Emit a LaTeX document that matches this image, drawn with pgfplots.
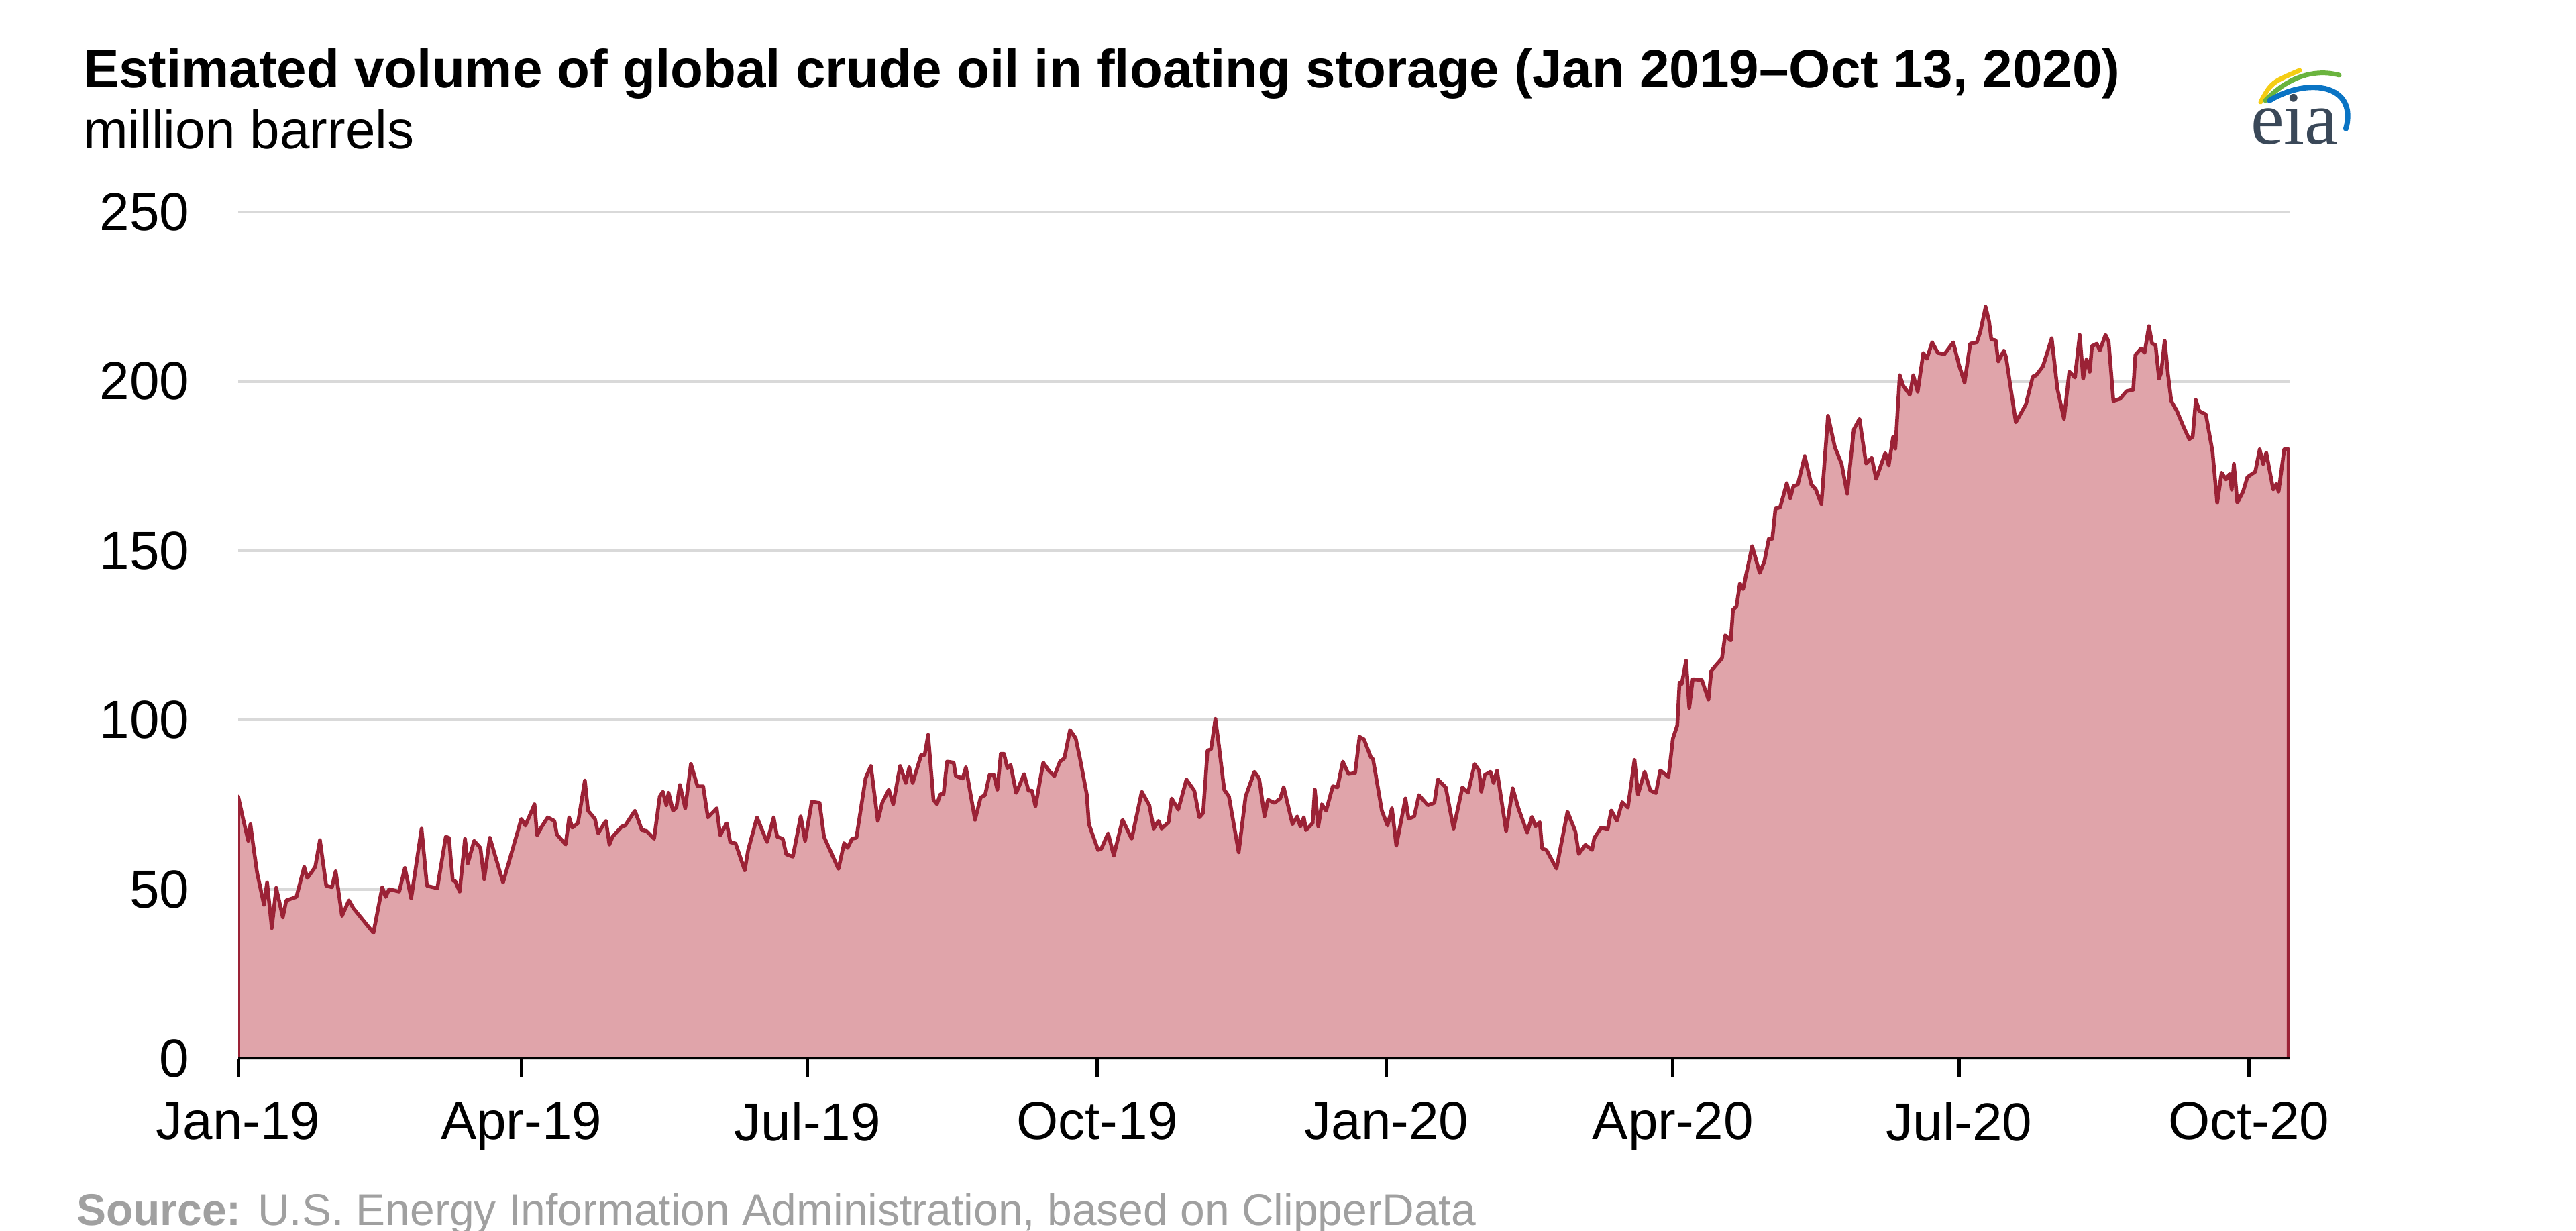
\documentclass[border=0pt]{standalone}
\usepackage{fontspec}
\setmainfont{Liberation Sans}
\newfontfamily\eiafont{Liberation Serif}
\usepackage{pgfplots}
\pgfplotsset{compat=1.18}

\definecolor{areafill}{RGB}{224,164,170}
\definecolor{arealine}{RGB}{155,34,54}
\definecolor{gridgray}{RGB}{217,217,217}
\definecolor{srcgray}{RGB}{160,160,160}
\definecolor{eiatext}{RGB}{58,72,88}
\definecolor{eiayellow}{RGB}{245,205,20}
\definecolor{eiagreen}{RGB}{106,180,62}
\definecolor{eiablue}{RGB}{10,116,196}

\begin{document}
\fontsize{8}{9.6}\selectfont
\begin{tikzpicture}
\path[use as bounding box] (0,0) rectangle (384pt,183.5pt);

% days since 1 Jan 2019, million barrels
\begin{axis}[
    at={(35.5pt,25.7pt)}, anchor=south west,
    scale only axis, width=305.8pt, height=126.2pt,
    xmin=0, xmax=652, ymin=0, ymax=250,
    axis line style={draw=none},
    xtick={0,90,181,273,365,456,547,639},
    xticklabels={Jan-19,Apr-19,Jul-19,Oct-19,Jan-20,Apr-20,Jul-20,Oct-20},
    ytick={0,50,...,250},
    xtick pos=bottom, tick align=outside,
    major tick length=2.7pt,
    xtick style={black, line width=0.5pt},
    ytick style={draw=none},
    ymajorgrids, grid style={gridgray, line width=0.45pt},
    tick label style={font=\fontsize{8}{9.6}\selectfont},
    /pgf/number format/assume math mode=true,
    yticklabel style={anchor=east, inner sep=0pt, xshift=-4.4pt},
    xticklabel style={anchor=north, inner sep=0pt, yshift=-3.6pt},
]
\addplot[fill=areafill, draw=arealine, line width=0.55pt, line join=round] coordinates {
(0,0) (0,77.4) (1.4,71.5) (3.2,64.3) (3.9,69.2) (4.6,64.3) (6,55) (8.2,45.4) (9.2,52) (10.7,38.5)
(12.1,50.4) (14.2,41.7) (15.3,46.7) (18.5,47.7) (21,56.6) (22,53.3) (24.5,56.6) (26,64.5) (28,51)
(29.8,50.6) (31,55.3) (33,42.1) (35.2,46.7) (36.6,44.4) (43,37.1) (45.8,50.6) (46.9,47.7) (48,50)
(51.2,49.3) (53,56.3) (55,47.3) (58.3,67.9) (60,51) (63.3,50.3) (66,65.5) (67,65.2) (68.2,52.6)
(69,52.4) (70.4,49.3) (72.1,64.9) (73,57.6) (75,64.3) (77,62.2) (78.2,53) (80,65.2) (84.2,52)
(90,70.8) (91.3,68.8) (94.2,75.1) (95,65.9) (96.3,68.2) (98.4,71.2)
(100.5,70.2) (101.3,66.2) (104.1,63.2) (105.2,71.2) (106.2,68.2) (108,69.5) (110.2,82.1) (111.2,73.2)
(113.4,70.8) (114.4,66.5) (116.9,70.2) (118,63.2) (119,65.5) (121.9,68.5) (123,68.8) (126.1,73.2)
(128.3,67.5) (129.8,67.2) (132.2,64.9) (134,77.4) (135,78.8) (136.1,74.8) (136.8,78.5) (138.2,73.2)
(139.3,74.2) (140.4,80.8) (142.1,73.9) (143.9,87) (146,80.4) (147.8,80.4) (149.3,71.2) (152.1,73.9)
(153.2,65.9) (155.3,69.5) (156.4,63.9) (158.1,63.5) (161,55.6) (162.1,61.6) (164.9,71.2) (168.1,63.9)
(170.2,71.2) (171.3,65.5) (173.1,64.9) (174.2,60.3) (176.3,59.6) (178.8,71.5) (180.2,64.3) (182.3,75.8)
(184.8,75.5) (186.2,65.5) (190.8,56) (192.6,63.6) (193.7,62.2) (195.1,64.9) (196.5,65.2) (199.4,82.7)
(201.1,86.4)
(203.3,70.2) (204.7,75.5) (206.8,79.4) (208.2,75.1) (210.4,86.4) (212.2,81.4) (213.3,86) (214.4,81.4)
(217.1,89.7) (218.2,89.7) (219.3,95.6) (221,76.4) (222.1,75.1) (223.2,78.1) (224.2,78.1) (225.3,87.7)
(227.4,87.4) (228.1,83.4) (230.3,82.7) (231.3,86) (234.2,70.5) (236,77.1) (237.4,77.8) (238.8,83.7)
(240.2,83.7) (241.3,79.4) (242.4,90) (243.4,90) (244.5,85.7) (245.5,86.7) (247.3,78.4) (249.8,84)
(251.2,79.1) (252.3,79.1) (253.4,74.5) (255.9,87.4) (257.7,85) (259.4,83.4) (261.2,87.7) (262.6,88.7)
(264.4,97) (266.2,94.6) (267.6,88.4) (269.7,78.1) (270.4,69.2) (273.3,61.6) (274.3,61.9) (276.5,66.5)
(278.3,59.9) (281.1,70.5) (284,64.9) (287.2,78.8) (289.6,74.8) (291,67.9) (292.5,70.2) (293.5,67.9)
(295.7,69.8) (296.7,76.8) (298.8,73.5) (301.4,82.4) (303.9,79.1) (305.5,71.2) (306.7,72.5)
(308.1,91) (309.2,91.3) (310.6,100.3) (311.6,93.3) (313.4,79.4) (314.9,77.4) (318,60.9) (320.2,77.4)
(323,84.7) (324.5,82.7) (326.2,71.5) (327.3,76.4) (329.4,75.5) (331.2,76.8) (332.3,80.1) (335.1,69.2)
(336.6,71.5) (337.6,68.5) (338.7,71.2) (339.4,67.5) (341.5,69.5) (342.2,79.4) (343.3,68.5) (344.4,75.1)
(345.8,73.2) (347.9,80.4) (349.4,80.1) (351.1,87.7) (352.9,84) (355,84.3) (356.4,95) (357.8,94.3)
(360,89) (360.7,88.4) (363.5,73.2) (365.3,68.8) (366.7,73.9) (368.1,62.9) (371,76.8) (372,70.8)
(373.8,71.5) (375.3,77.8) (378.1,74.8) (380.2,75.5) (381.3,82.4) (383.8,80.1) (386.3,67.9) (389.1,80.1)
(390.9,78.5) (393,87) (394.4,85) (395.1,78.8) (396.2,83.7) (398,84.7) (399,81.4) (400.1,85)
(403,67.2) (405.1,79.8) (406.9,73.9)
(409.7,66.7) (411.2,71.4) (412.3,68.6) (413.7,69.8) (414.4,62) (415.8,61.6) (419,56.1) (422.5,72.9)
(425,67.1) (426.1,60.4) (428.2,63.1) (430.3,61.6) (431,65.1) (433.2,68.2) (435.3,67.8) (436.4,73.3)
(438.2,70.2) (439.9,75.7) (441.7,74.1) (443.8,88.2) (444.9,78) (447,84.7) (448.8,79.2) (450.6,78.4)
(452,85.1) (454.6,83.1) (456,94.5) (457.4,98.4)
(458.1,111) (458.8,110.6) (460.2,117.5) (461.2,103.5) (462.3,112) (465.2,111.8) (467.3,106) (468.2,114.5)
(471.6,118.2) (472.6,125) (474.4,123.5) (475.1,132.5) (476.2,133.5) (477.3,140.3) (478.3,138.6) (481.2,151.3)
(483.6,143.4) (485.1,146.9) (486.5,153.5) (487.6,153.5) (488.6,162.4) (490.1,162.8) (492.2,169.9) (493.3,165.5)
(494.3,169) (495.7,169.5) (497.9,177.9) (500,169.5) (501.4,168.1) (503.2,163.7) (505.3,189.8) (507.5,180.5)
(509.6,175.7) (511.4,166.8) (513.5,185.8) (515.3,188.9) (517.4,175.7) (519.2,177.4) (520.6,171.2) (523.5,178.8)
(524.6,175.2) (526,183.6) (526.7,180.1) (528.1,201.8) (529.2,198.7) (531.3,196) (532.4,201.8) (533.8,196.9)
(535.6,208.4) (536.7,206.6) (538.4,211.5) (540.2,208.4) (542.3,208) (545.1,211.5) (546.9,204.9) (548.7,199.6)
(550.5,211.1) (552.6,211.5) (553.7,214.6)
(555.4,222) (556.5,217.7) (557.2,212.4) (558.6,212.1) (559.4,205.8) (561.2,209.1) (561.9,207.1) (565,187.9)
(568.2,193.2) (570.4,201.4) (571.4,201.7) (573.6,204.4) (576.4,212.7) (578.2,197.8) (580.3,188.9) (582,202.8)
(583.8,201.1) (585.3,213.7) (586.4,200.8) (587.5,206.5) (588.5,202.8) (589.2,210.4) (590.7,211.1) (591.7,209.1)
(593.5,213.7) (594.5,211.7) (596,194.2) (598.1,194.8) (600.2,197.1) (602.3,197.5) (603,207.8) (604.8,209.7)
(605.9,208.4) (607.3,216.3) (608.3,211.1) (609.4,210.7) (610.5,200.8) (611.2,202.5) (612.3,212) (613.4,201.7)
(614.4,194.2) (616.2,191.2) (618,187.2) (620.1,182.9) (621.2,183.6) (622.2,194.5) (623.3,191.2) (625.4,190.2)
(627.5,179.3) (629,164.1) (630.4,173) (631.8,171) (632.9,172.6) (633.6,168) (634.3,175.6) (635.4,164.1)
(637.2,167.4) (638.6,171.7) (641.1,173.3) (642.5,179.9) (643.6,175.6) (644.6,178.9) (646.8,168) (647.8,169.7)
(648.5,167.4) (650.3,179.9) (651.7,179.9) (651.7,0)
};
\draw[black, line width=0.6pt] (axis cs:0,0) -- (axis cs:652,0);
\end{axis}

% titles
\node[anchor=base west, inner sep=0pt, font=\bfseries] at (12.2pt,170.4pt)
    {Estimated volume of global crude oil in floating storage (Jan 2019–Oct 13, 2020)};
\node[anchor=base west, inner sep=0pt] at (12.2pt,161.3pt) {million barrels};

% source line, cut by the page edge as in the original
\node[anchor=base west, inner sep=0pt, text=srcgray, font=\fontsize{6.6}{8}\selectfont]
    at (11.2pt,0.8pt) {\textbf{Source:} U.S. Energy Information Administration, based on ClipperData};

% eia logo
\node[anchor=base west, inner sep=0pt, text=eiatext, font=\fontsize{11.2}{12}\selectfont\eiafont]
    at (335.3pt,162pt) {eia};
\draw[eiayellow, line width=0.7pt, line cap=round] (337.0pt,168.3pt) .. controls (338.6pt,171.2pt) .. (342.8pt,173.0pt);
\draw[eiagreen, line width=0.7pt, line cap=round] (337.7pt,168.5pt) .. controls (341pt,172pt) and (345pt,173.3pt) .. (348.7pt,172.3pt);
\draw[eiablue, line width=0.8pt, line cap=round] (338.3pt,168.5pt) .. controls (344pt,172pt) and (351.5pt,171pt) .. (349.7pt,164.3pt);
\end{tikzpicture}
\end{document}
